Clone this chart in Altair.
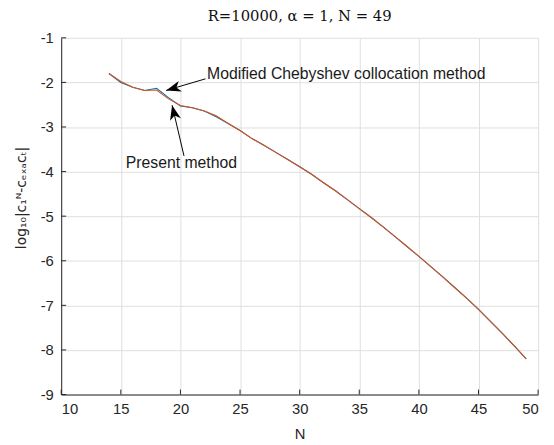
import math
import altair as alt
import pandas as pd

# ---------------- data ----------------
N_vals = list(range(14, 50))
present_err = [-1.80, -2.00, -2.11, -2.18, -2.13, -2.34, -2.53, -2.57, -2.64, -2.77,
               -2.92, -3.08, -3.26, -3.41, -3.57, -3.73, -3.89, -4.06, -4.25, -4.43,
               -4.63, -4.83, -5.03, -5.24, -5.46, -5.68, -5.90, -6.13, -6.36, -6.60,
               -6.84, -7.09, -7.36, -7.63, -7.91, -8.20]
cheb_err = [-1.80, -1.98, -2.11, -2.18, -2.17, -2.37, -2.52, -2.57, -2.64, -2.75,
            -2.92, -3.08, -3.26, -3.41, -3.57, -3.73, -3.89, -4.06, -4.25, -4.43,
            -4.63, -4.83, -5.03, -5.24, -5.46, -5.68, -5.90, -6.13, -6.36, -6.60,
            -6.84, -7.09, -7.36, -7.63, -7.91, -8.20]
series_names = ["Present method", "Modified Chebyshev collocation method"]
series_colors = ["#0072BD", "#D95319"]

x_ticks = [10, 15, 20, 25, 30, 35, 40, 45, 50]
y_ticks = [-9, -8, -7, -6, -5, -4, -3, -2, -1]

# annotations (data coordinates)
ann_text = ["Modified Chebyshev collocation method", "Present method"]
ann_text_x = [22.23, 20.08]
ann_text_y = [-1.82, -3.81]
ann_text_align = ["left", "center"]
arrow_tail_x = [22.1, 20.3]
arrow_tail_y = [-1.92, -3.65]
arrow_tip_x = [18.8, 19.3]
arrow_tip_y = [-2.18, -2.51]

title_text = "R=10000, α = 1, N = 49"
x_title = "N"
y_title = "log₁₀|c₁ᴺ-cₑₓₐcₜ|"

W, H = 484, 362
X_DOM = [10, 50]
Y_DOM = [-9, -1]

# ---------------- tables ----------------
rows = []
for name, vals in zip(series_names, [present_err, cheb_err]):
    for n, v in zip(N_vals, vals):
        rows.append({"N": n, "err": v, "series": name})
df = pd.DataFrame(rows)

sx = W / (X_DOM[1] - X_DOM[0])
sy = H / (Y_DOM[1] - Y_DOM[0])
angles = []
for tx, ty, hx, hy in zip(arrow_tail_x, arrow_tail_y, arrow_tip_x, arrow_tip_y):
    dx = (hx - tx) * sx
    dy = -(hy - ty) * sy
    angles.append((math.degrees(math.atan2(dx, -dy)) + 360) % 360)

arrows = pd.DataFrame({"tx": arrow_tail_x, "ty": arrow_tail_y,
                       "hx": arrow_tip_x, "hy": arrow_tip_y, "ang": angles})
labels = pd.DataFrame({"x": ann_text_x, "y": ann_text_y, "t": ann_text,
                       "al": ann_text_align})
xt = pd.DataFrame({"v": x_ticks})
yt = pd.DataFrame({"v": y_ticks})

AXC = "#262626"
LABEL_FONT = "Liberation Sans"

xscale = alt.Scale(domain=X_DOM, nice=False, zero=False)
yscale = alt.Scale(domain=Y_DOM, nice=False, zero=False)

xaxis = alt.Axis(values=x_ticks, grid=True, ticks=False, tickSize=0,
                 labelExpr="'' + datum.value",
                 labelPadding=7, labelFontSize=15, labelFont=LABEL_FONT,
                 labelColor=AXC, domainColor=AXC, title=x_title,
                 titleFont=LABEL_FONT, titleFontSize=15, titleFontWeight="normal",
                 titleColor=AXC, titleX=W / 2, titleY=40, titleBaseline="middle")
yaxis = alt.Axis(values=y_ticks, grid=True, ticks=False, tickSize=0,
                 labelExpr="'' + datum.value",
                 labelPadding=8, labelFontSize=15, labelFont=LABEL_FONT,
                 labelColor=AXC, domainColor=AXC, title=y_title,
                 titleFont="DejaVu Sans", titleFontSize=14, titleFontWeight="normal",
                 titleColor=AXC, titleX=-40, titleY=162, titleAngle=270,
                 titleBaseline="middle", titleAlign="center")

lines = alt.Chart(df).mark_line(strokeWidth=1.1, clip=True).encode(
    x=alt.X("N:Q", scale=xscale, axis=xaxis),
    y=alt.Y("err:Q", scale=yscale, axis=yaxis),
    color=alt.Color("series:N", scale=alt.Scale(domain=series_names, range=series_colors),
                    legend=None),
    order=alt.Order("N:Q"),
)

xticks_layer = alt.Chart(xt).mark_rule(color=AXC, strokeWidth=1).encode(
    x=alt.X("v:Q", scale=xscale), y=alt.value(H), y2=alt.value(H - 5))
yticks_layer = alt.Chart(yt).mark_rule(color=AXC, strokeWidth=1).encode(
    y=alt.Y("v:Q", scale=yscale), x=alt.value(0), x2=alt.value(5))

arrow_lines = alt.Chart(arrows).mark_rule(color="black", strokeWidth=1).encode(
    x=alt.X("tx:Q", scale=xscale), y=alt.Y("ty:Q", scale=yscale),
    x2="hx:Q", y2="hy:Q")
arrow_heads = alt.Chart(arrows).mark_point(
    shape="M0,0L-0.75,2L0,1.45L0.75,2Z", filled=True, color="black",
    opacity=1, size=225, strokeWidth=0).encode(
    x=alt.X("hx:Q", scale=xscale), y=alt.Y("hy:Q", scale=yscale),
    angle=alt.Angle("ang:Q", scale=None))

text_left = alt.Chart(labels[labels.al == "left"]).mark_text(
    align="left", baseline="middle", font=LABEL_FONT, fontSize=16, color="#1a1a1a").encode(
    x=alt.X("x:Q", scale=xscale), y=alt.Y("y:Q", scale=yscale), text="t:N")
text_center = alt.Chart(labels[labels.al == "center"]).mark_text(
    align="center", baseline="middle", font=LABEL_FONT, fontSize=16, color="#1a1a1a").encode(
    x=alt.X("x:Q", scale=xscale), y=alt.Y("y:Q", scale=yscale), text="t:N")

chart = alt.layer(
    lines, xticks_layer, yticks_layer, arrow_lines, arrow_heads, text_left, text_center
).properties(
    width=W, height=H,
    title=alt.TitleParams(title_text, font="DejaVu Serif", fontSize=15,
                          fontWeight="normal", color="#111", anchor="middle", offset=7),
    autosize=alt.AutoSizeParams(type="none"),
    padding={"left": 54, "top": 27, "right": 8, "bottom": 50},
    background="white",
).configure_view(stroke=None).configure_axis(gridColor="#dedede", gridWidth=1,
                                              domainWidth=1)

chart.save("out.html", embed_options={"renderer": "svg", "actions": False})
